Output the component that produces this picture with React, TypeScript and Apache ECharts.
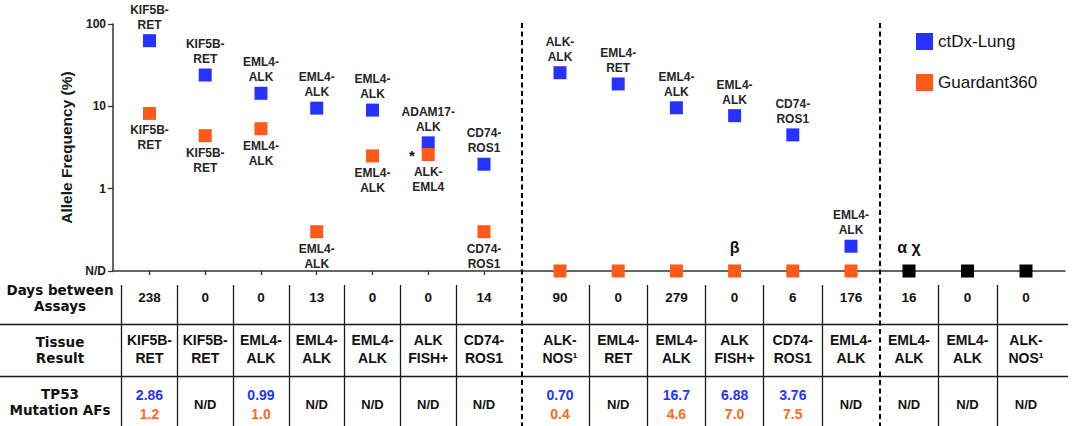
import React, { useEffect, useRef } from 'react';
import * as echarts from 'echarts';

// ---------- data ----------
const ND = 0.1; // "N/D" is drawn on the floor of the log axis

const groupA = ['C1', 'C2', 'C3', 'C4', 'C5', 'C6', 'C7'];
const groupB = ['C8', 'C9', 'C10', 'C11', 'C12', 'C13'];
const groupC = ['C14', 'C15', 'C16'];

const ctdxAF: (number | null)[] = [62.7, 24, 14.4, 9.5, 9.0, 3.6, 1.98, 25.6, 18.7, 9.6, 7.7, 4.5, 0.2, null, null, null];
const guardantAF: (number | null)[] = [8.2, 4.4, 5.35, 0.3, 2.5, 2.6, 0.3, ND, ND, ND, ND, ND, ND, null, null, null];
const bothNotDetected: (number | null)[] = [null, null, null, null, null, null, null, null, null, null, null, null, null, ND, ND, ND];

const ctdxFusion = ['KIF5B-\nRET', 'KIF5B-\nRET', 'EML4-\nALK', 'EML4-\nALK', 'EML4-\nALK', 'ADAM17-\nALK', 'CD74-\nROS1',
  'ALK-\nALK', 'EML4-\nRET', 'EML4-\nALK', 'EML4-\nALK', 'CD74-\nROS1', 'EML4-\nALK', '', '', ''];
const guardantFusion = ['KIF5B-\nRET', 'KIF5B-\nRET', 'EML4-\nALK', 'EML4-\nALK', 'EML4-\nALK', 'ALK-\nEML4', 'CD74-\nROS1',
  '', '', '', '', '', '', '', '', ''];

// annotations attached to a point: which series it sits on and its text
const noteText = ['', '', '', '', '', '*', '', '', '', '', 'β', '', '', 'α χ', '', ''];
const noteAnchor = ['', '', '', '', '', 'guardant', '', '', '', '', 'guardant', '', '', 'both', '', ''];

const daysBetween = [238, 0, 0, 13, 0, 0, 14, 90, 0, 279, 0, 6, 176, 16, 0, 0];
const tissueResult = ['KIF5B-\nRET', 'KIF5B-\nRET', 'EML4-\nALK', 'EML4-\nALK', 'EML4-\nALK', 'ALK\nFISH+', 'CD74-\nROS1',
  'ALK-\nNOS¹', 'EML4-\nRET', 'EML4-\nALK', 'ALK\nFISH+', 'CD74-\nROS1', 'EML4-\nALK',
  'EML4-\nALK', 'EML4-\nALK', 'ALK-\nNOS¹'];
const tp53Ctdx = ['2.86', '', '0.99', '', '', '', '', '0.70', '', '16.7', '6.88', '3.76', '', '', '', ''];
const tp53Guardant = ['1.2', '', '1.0', '', '', '', '', '0.4', '', '4.6', '7.0', '7.5', '', '', '', ''];

const rowLabels = ['Days between\nAssays', 'Tissue\nResult', 'TP53\nMutation AFs'];
const rowCenters = [0.5, 1.5, 2.5];
const legendNames = ['ctDx-Lung', 'Guardant360'];
const yAxisName = 'Allele Frequency (%)';
const ndLabel = 'N/D';

// ---------- styles / layout ----------
const BLUE = '#2633ff';
const ORANGE = '#ff5a1a';
const INK = '#1a1a1a';
const FONT = "'Liberation Sans', Arial, sans-serif";
const PLOT_TOP = 24;
const PLOT_H = 247;
const groupLayout = [
  { left: 121.6, width: 390.25 },
  { left: 530.9, width: 349.2 },
  { left: 879.75, width: 175.5 },
];
const groups = [groupA, groupB, groupC];
const offsets = [0, groupA.length, groupA.length + groupB.length];
const CLEAR = 'rgba(0,0,0,0)';

const pick = (arr: (number | null)[], off: number, n: number) =>
  arr.slice(off, off + n).map((v) => (v == null ? '-' : v));

function buildOption() {
  const grid: any[] = [
    { left: 113, top: PLOT_TOP, width: 952, height: PLOT_H },
    ...groupLayout.map((g) => ({ left: g.left, top: PLOT_TOP, width: g.width, height: PLOT_H })),
    { left: 0, top: 272, width: 1068, height: 156 },
    ...groupLayout.map((g) => ({ left: g.left, top: 285, width: g.width, height: 141 })),
  ].map((g) => ({ ...g, containLabel: false, outerBoundsMode: 'none' }));

  const lineStyle = { color: INK, width: 1.3 };

  const xAxis: any[] = [
    {
      gridIndex: 0, type: 'value', min: 0, max: 1,
      axisLine: { show: true, onZero: false, lineStyle: { color: '#333', width: 1.5 } },
      axisTick: { show: false }, axisLabel: { show: false }, splitLine: { show: false },
    },
    ...groups.map((g, i) => ({
      gridIndex: i + 1, type: 'category', data: g,
      axisLine: { show: false, onZero: false },
      axisTick: { show: true, alignWithLabel: true, length: 4, lineStyle: { color: '#333', width: 1.3 } },
      axisLabel: { show: false }, splitLine: { show: false },
    })),
    { gridIndex: 4, type: 'value', min: 0, max: 1, show: false },
    ...groups.map((g, i) => ({
      gridIndex: i + 5, type: 'category', data: g,
      axisLine: { show: false }, axisTick: { show: false }, axisLabel: { show: false },
      splitLine: { show: true, interval: 0, showMinLine: i === 0, showMaxLine: false, lineStyle },
    })),
  ];

  const yAxis: any[] = [
    {
      gridIndex: 0, type: 'log', logBase: 10, min: 0.1, max: 100,
      axisLine: { show: true, lineStyle: { color: '#333', width: 1.5 } },
      axisTick: { show: true, length: 5, lineStyle: { color: '#333', width: 1.3 } },
      axisLabel: {
        formatter: (v: number) => (v < 0.5 ? ndLabel : String(v)),
        fontSize: 12, fontWeight: 'bold', color: INK, margin: 7, fontFamily: FONT,
      },
      splitLine: { show: false },
      name: yAxisName, nameLocation: 'middle', nameGap: 32,
      nameTextStyle: { fontSize: 15.5, fontWeight: 'bold', color: INK, fontFamily: FONT },
    },
    ...groups.map((_, i) => ({ gridIndex: i + 1, type: 'log', logBase: 10, min: 0.1, max: 100, show: false })),
    {
      gridIndex: 4, type: 'category', data: rowLabels, inverse: true,
      axisLine: { show: false }, axisTick: { show: false },
      axisLabel: {
        inside: true, align: 'center', margin: 60, fontFamily: "'DejaVu Sans', sans-serif",
        fontWeight: 'bold', fontSize: 13.5, lineHeight: 16, color: '#111',
      },
      splitLine: { show: true, interval: 0, showMinLine: false, showMaxLine: false, lineStyle },
    },
    ...groups.map((_, i) => ({ gridIndex: i + 5, type: 'value', inverse: true, min: 0.25, max: 3, show: false })),
  ];

  const pointLabel = {
    show: true, fontFamily: FONT, fontSize: 12, fontWeight: 'bold', color: '#262626', lineHeight: 15,
  };
  const cellText = { fontFamily: FONT, fontSize: 13.5, fontWeight: 'bold', color: '#111' };

  const series: any[] = [];
  groups.forEach((g, gi) => {
    const off = offsets[gi];
    const n = g.length;
    const base = {
      type: 'scatter', xAxisIndex: gi + 1, yAxisIndex: gi + 1, symbol: 'rect', symbolSize: 13,
      emphasis: { disabled: true },
    };
    const hasBlue = ctdxAF.slice(off, off + n).some((v) => v != null);
    const hasOrange = guardantAF.slice(off, off + n).some((v) => v != null);
    const hasBoth = bothNotDetected.slice(off, off + n).some((v) => v != null);
    if (hasBlue) {
      series.push({
        ...base, name: legendNames[0], itemStyle: { color: BLUE, opacity: 1 }, z: 3,
        data: pick(ctdxAF, off, n),
        label: { ...pointLabel, position: 'top', distance: 2, formatter: (p: any) => ctdxFusion[off + p.dataIndex] },
      });
    }
    if (hasOrange) {
      series.push({
        ...base, name: legendNames[1], itemStyle: { color: ORANGE, opacity: 1 }, z: 4,
        data: pick(guardantAF, off, n),
        label: { ...pointLabel, position: 'bottom', distance: 3, formatter: (p: any) => guardantFusion[off + p.dataIndex] },
      });
    }
    if (hasBoth) {
      series.push({
        ...base, name: 'Both N/D', itemStyle: { color: '#000', opacity: 1 }, z: 4,
        data: pick(bothNotDetected, off, n),
      });
    }
    // annotations (*, β, α χ)
    const noteData = g.map((_, k) => {
      const i = off + k;
      if (!noteText[i]) return '-';
      const src = noteAnchor[i] === 'guardant' ? guardantAF : noteAnchor[i] === 'both' ? bothNotDetected : ctdxAF;
      return src[i] == null ? '-' : src[i];
    });
    if (noteData.some((v) => v !== '-')) {
      series.push({
        ...base, name: 'notes', symbolSize: 13, itemStyle: { color: CLEAR, opacity: 1 }, z: 6, silent: true,
        data: noteData.map((v, k) => {
          const i = off + k;
          if (v === '-') return '-';
          const left = noteText[i] === '*';
          return {
            value: v,
            label: left
              ? { position: 'left', distance: 7, fontSize: 15, offset: [0, 1] }
              : { position: 'top', distance: 9, fontSize: 16 },
          };
        }),
        label: {
          show: true, fontFamily: FONT, fontWeight: 'bold', color: '#111',
          formatter: (p: any) => noteText[off + p.dataIndex],
        },
      });
    }
    // table cells
    const tbase = {
      type: 'scatter', xAxisIndex: gi + 5, yAxisIndex: gi + 5, symbol: 'rect', symbolSize: 1,
      itemStyle: { color: CLEAR, opacity: 1 }, silent: true, z: 5, emphasis: { disabled: true },
    };
    series.push({
      ...tbase, name: 'days',
      data: g.map((_, k) => [k, rowCenters[0]]),
      label: { show: true, position: 'inside', ...cellText, formatter: (p: any) => String(daysBetween[off + p.dataIndex]) },
    });
    series.push({
      ...tbase, name: 'tissue',
      data: g.map((_, k) => [k, rowCenters[1]]),
      label: { show: true, position: 'inside', ...cellText, fontSize: 14, lineHeight: 18, formatter: (p: any) => tissueResult[off + p.dataIndex] },
    });
    series.push({
      ...tbase, name: 'tp53',
      data: g.map((_, k) => [k, rowCenters[2]]),
      label: {
        show: true, position: 'inside', offset: [0, 4], ...cellText,
        formatter: (p: any) => {
          const i = off + p.dataIndex;
          return tp53Ctdx[i] ? `{b|${tp53Ctdx[i]}}\n{o|${tp53Guardant[i]}}` : `{n|${ndLabel}}`;
        },
        rich: {
          b: { ...cellText, fontSize: 14, color: BLUE, lineHeight: 18.5 },
          o: { ...cellText, fontSize: 14, color: '#ff6a1a', lineHeight: 18.5 },
          n: { ...cellText, fontSize: 13, lineHeight: 18 },
        },
      },
    });
  });

  return {
    animation: false,
    backgroundColor: '#fff',
    textStyle: { fontFamily: FONT },
    grid, xAxis, yAxis, series,
    legend: {
      data: legendNames, orient: 'vertical', left: 916, top: 33, padding: 0,
      itemWidth: 17, itemHeight: 17, itemGap: 24, icon: 'rect', selectedMode: false,
      itemStyle: { opacity: 1 },
      textStyle: { fontSize: 17, lineHeight: 17, color: '#111', fontFamily: FONT },
    },
  };
}

export default function App() {
  const ref = useRef<HTMLDivElement>(null);
  useEffect(() => {
    document.body.style.margin = '0';
    const chart = echarts.init(ref.current!, undefined, { renderer: 'svg' });
    chart.setOption(buildOption() as any);
    // dashed separators halfway between neighbouring groups
    const px = (axis: number, idx: number) => chart.convertToPixel({ xAxisIndex: axis } as any, idx) as number;
    const topY = (chart.convertToPixel({ yAxisIndex: 0 } as any, 100) as number) - 1;
    const s1 = (px(1, groupA.length - 1) + px(2, 0)) / 2;
    const s2 = (px(2, groupB.length - 1) + px(3, 0)) / 2;
    chart.setOption({
      graphic: [s1, s2].map((x) => ({
        type: 'line', silent: true, z: 10,
        shape: { x1: x, y1: topY, x2: x, y2: 426 },
        style: { stroke: '#000', lineWidth: 2, lineDash: [5, 3.5] },
      })),
    });
    return () => chart.dispose();
  }, []);
  return <div ref={ref} style={{ position: 'fixed', left: 0, top: 0, width: 1076, height: 426 }} />;
}
